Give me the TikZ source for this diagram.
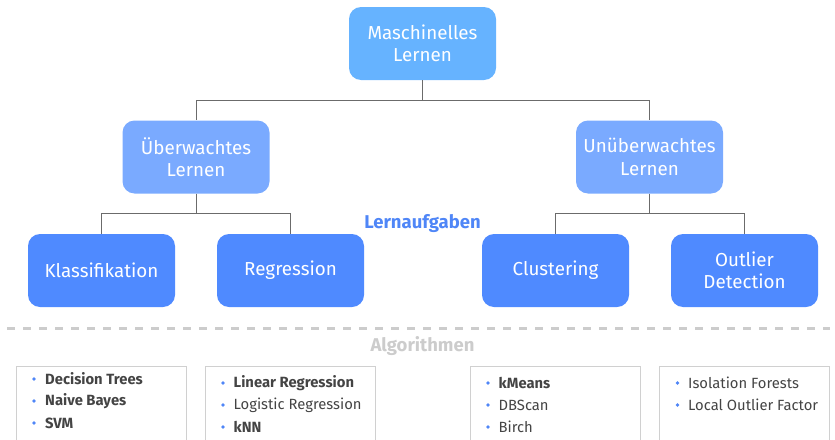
\documentclass[tikz,border=0pt]{standalone}
\usepackage{fontspec}
\setmainfont{Fira Sans}
\definecolor{cTop}{HTML}{66B3FF}
\definecolor{cMid}{HTML}{7AAAFF}
\definecolor{cLow}{HTML}{4F8AFF}
\definecolor{cHead}{HTML}{4F86F7}
\definecolor{cLine}{HTML}{6B6B6B}
\definecolor{cSep}{HTML}{CCCCCC}
\definecolor{cBord}{HTML}{D0D0D0}
\definecolor{cTxt}{HTML}{444444}
\tikzset{
  box/.style={rounded corners=12pt, minimum width=147pt, minimum height=73pt, inner sep=0pt,
    text=white, align=center, font=\fontsize{18.8}{22.5}\selectfont},
  topbox/.style={box, fill=cTop},
  midbox/.style={box, fill=cMid},
  lowbox/.style={box, fill=cLow},
  conn/.style={draw=cLine, line width=1pt},
  algbox/.style={draw=cBord, line width=0.8pt},
  item/.style={anchor=west, inner sep=0pt, text=cTxt, font=\fontsize{14.8}{17}\selectfont},
  bolditem/.style={item, font=\fontsize{14.8}{17}\selectfont\bfseries},
  dot/.style={circle, fill=cHead, inner sep=0pt, minimum size=3.6pt},
}
\begin{document}
\begin{tikzpicture}[x=1pt, y=-1pt]
\useasboundingbox (0,0) rectangle (835,439);
% level 1
\node[topbox] (ml) at (422.5,43.5) {Maschinelles\\Lernen};
% level 2
\node[midbox] (ue) at (196,157) {Überwachtes\\Lernen};
\node[midbox] (un) at (649.5,157) {Unüberwachtes\\Lernen};
% level 3
\node[lowbox] (kl) at (101.5,270.5) {Klassifikation};
\node[lowbox] (re) at (290.5,270.5) {Regression};
\node[lowbox] (cl) at (555.5,270.5) {Clustering};
\node[lowbox] (od) at (744.5,270.5) {Outlier\\Detection};
% connectors
\draw[conn] (ml.south) -- ++(0,-20pt) -| (ue.north);
\draw[conn] (ml.south) -- ++(0,-20pt) -| (un.north);
\draw[conn] (ue.south) -- ++(0,-20pt) -| (kl.north);
\draw[conn] (ue.south) -- ++(0,-20pt) -| (re.north);
\draw[conn] (un.south) -- ++(0,-20pt) -| (cl.north);
\draw[conn] (un.south) -- ++(0,-20pt) -| (od.north);
% labels
\node[text=cHead, font=\fontsize{18.5}{22}\selectfont\bfseries] (la) at (422.5,224) {Lernaufgaben};
\coordinate (sepL) at (7,328);
\coordinate (sepR) at (830,328);
\draw[cSep, line width=3pt, dash pattern=on 8pt off 8pt] (sepL) -- (sepR);
\node[text=cSep, font=\fontsize{18.5}{22}\selectfont\bfseries] (al) at (422.5,346) {Algorithmen};
% algorithm boxes
\draw[algbox] (16.5,366) rectangle (186,450);
\draw[algbox] (205.5,366) rectangle (375.5,450);
\draw[algbox] (470.5,366) rectangle (640.5,450);
\draw[algbox] (659.5,366) rectangle (829,450);
% box 1
\node[dot] (b11) at (34,379) {}; \node[bolditem] (t11) at (45,379) {Decision Trees};
\node[dot] (b12) at (34,401) {}; \node[bolditem] (t12) at (45,401) {Naive Bayes};
\node[dot] (b13) at (34,423) {}; \node[bolditem] (t13) at (45,423) {SVM};
% box 2
\node[dot] (b21) at (223,383) {}; \node[bolditem] (t21) at (233.5,383) {Linear Regression};
\node[dot] (b22) at (223,405) {}; \node[item] (t22) at (233.5,405) {Logistic Regression};
\node[dot] (b23) at (223,427) {}; \node[bolditem] (t23) at (233.5,427) {kNN};
% box 3
\node[dot] (b31) at (488,383) {}; \node[bolditem] (t31) at (498.5,383) {kMeans};
\node[dot] (b32) at (488,405) {}; \node[item] (t32) at (498.5,405) {DBScan};
\node[dot] (b33) at (488,427) {}; \node[item] (t33) at (498.5,427) {Birch};
% box 4
\node[dot] (b41) at (677.5,383) {}; \node[item] (t41) at (688,383) {Isolation Forests};
\node[dot] (b42) at (677.5,405) {}; \node[item] (t42) at (688,405) {Local Outlier Factor};
\end{tikzpicture}
\end{document}
